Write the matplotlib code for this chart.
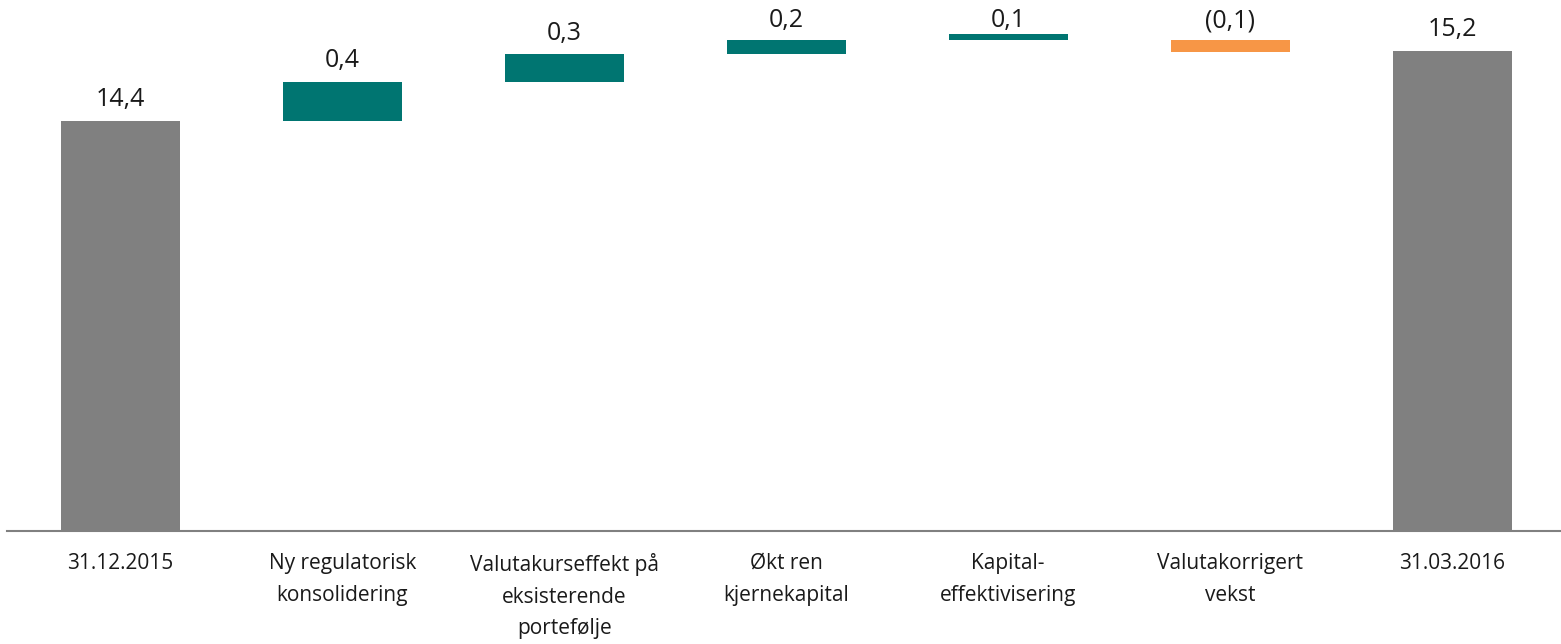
import matplotlib
matplotlib.use('Agg')
import matplotlib.pyplot as plt
import numpy as np

plt.rcParams['font.family'] = ['Open Sans', 'DejaVu Sans']

categories = ['31.12.2015', 'Ny regulatorisk\nkonsolidering',
              'Valutakurseffekt på\neksisterende\nportefølje',
              'Økt ren\nkjernekapital', 'Kapital-\neffektivisering',
              'Valutakorrigert\nvekst', '31.03.2016']
start_value = 14.40
end_value = 15.20
# changes (unrounded)
steps = [0.45, 0.31, 0.16, 0.07, -0.13]
value_labels = ['14,4', '0,4', '0,3', '0,2', '0,1', '(0,1)', '15,2']

grey = '#808080'
teal = '#007571'
orange = '#F79646'

fig = plt.figure(figsize=(15.61, 6.44), dpi=100)
ax = fig.add_axes([7/1561, 113.5/644, 1 - 7/1561, 530.5/644])

x = np.arange(len(categories))
w = 0.536

# running level; the source hangs the negative step from the level
# before the "Kapital-effektivisering" step
levels = start_value + np.cumsum(steps)
bottoms, heights, colors = [], [], []
prev = start_value
for i, d in enumerate(steps):
    if d >= 0:
        bottoms.append(prev)
        heights.append(d)
        colors.append(teal)
        prev = prev + d
    else:
        top = levels[i - 2]
        bottoms.append(top + d)
        heights.append(-d)
        colors.append(orange)

base = 9.72
ymax = base + 530.5 / 87.5
ax.bar(x[0], start_value - base, bottom=base, width=w, color=grey)
ax.bar(x[1:-1], heights, bottom=bottoms, width=w, color=colors)
ax.bar(x[-1], end_value - base, bottom=base, width=w, color=grey)

# labels sit above the bars, squeezed under the top edge when needed
tops = [start_value] + [b + h for b, h in zip(bottoms, heights)] + [end_value]
for xi, t, lab in zip(x, tops, value_labels):
    y = min(t + 0.17, ymax - 0.31)
    ax.text(xi, y, lab, ha='center', va='baseline', fontsize=18, color='#1a1a1a')

ax.set_ylim(base, ymax)
ax.set_xlim(-0.51, 6.49)
ax.set_yticks([])
ax.set_xticks(x)
ax.set_xticklabels(categories, fontsize=15, linespacing=1.68, color='#1a1a1a')
ax.tick_params(axis='x', length=0, pad=16)
for s in ['top', 'right', 'left']:
    ax.spines[s].set_visible(False)
ax.spines['bottom'].set_color('#808080')
ax.spines['bottom'].set_linewidth(1.5)

fig.savefig('out.png', dpi=100)
